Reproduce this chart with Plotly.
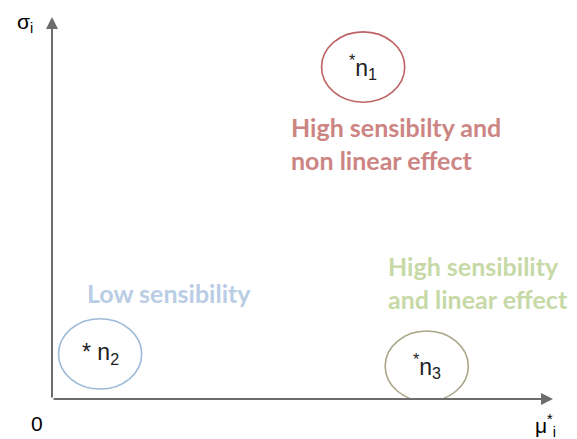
import plotly.graph_objects as go

# nodes in the (mu*, sigma) plane, axes normalised to 0..1
node_names = ["n1", "n2", "n3"]
node_x = [0.621, 0.096, 0.748]
node_y = [0.869, 0.118, 0.086]
node_labels = ["<sup>*</sup>n<sub>1</sub>", "* n<sub>2</sub>", "<sup>*</sup>n<sub>3</sub>"]
node_colors = ["#bf6466", "#9dbbd9", "#aaa688"]

# region captions
region_text = ["<b>High sensibilty and<br>non linear effect</b>",
               "<b>Low sensibility</b>",
               "<b>High sensibility<br>and linear effect</b>"]
region_x = [0.687, 0.234, 0.850]
region_y = [0.670, 0.277, 0.304]
region_colors = ["#cd8583", "#b9cde5", "#c6d9a6"]

fig = go.Figure()

# invisible trace so the axes exist
fig.add_trace(go.Scatter(x=node_x, y=node_y, mode="markers",
                         marker=dict(opacity=0), hoverinfo="skip", showlegend=False))

# circles round the nodes
rx, ry = 0.083, 0.092
for x, y, c in zip(node_x, node_y, node_colors):
    fig.add_shape(type="circle", xref="x", yref="y",
                  x0=x - rx, x1=x + rx, y0=y - ry, y1=y + ry,
                  line=dict(color=c, width=1.6))

annotations = []
for x, y, t in zip(node_x, node_y, node_labels):
    annotations.append(dict(x=x, y=y, xref="x", yref="y", text=t, showarrow=False,
                            font=dict(family="Arial", size=23, color="#222222")))

for x, y, t, c in zip(region_x, region_y, region_text, region_colors):
    annotations.append(dict(x=x, y=y, xref="x", yref="y", text=t, showarrow=False,
                            font=dict(family="Lato", size=25, color=c),
                            align="left"))

# axis arrows
annotations.append(dict(x=1.0, y=0, ax=0, ay=0, xref="x", yref="y", axref="x", ayref="y",
                        text="", showarrow=True, arrowhead=2, arrowsize=1.2,
                        arrowwidth=2, arrowcolor="#6d6d6d"))
annotations.append(dict(x=0, y=1.0, ax=0, ay=0, xref="x", yref="y", axref="x", ayref="y",
                        text="", showarrow=True, arrowhead=2, arrowsize=1.2,
                        arrowwidth=2, arrowcolor="#6d6d6d"))

# axis labels (paper coords so they may sit outside the plot)
axis_font = dict(family="Arial", size=21, color="#000000")
annotations.append(dict(x=-0.054, y=0.985, xref="paper", yref="paper", text="σ<sub>i</sub>",
                        xanchor="center", yanchor="middle", showarrow=False, font=axis_font))
annotations.append(dict(x=-0.03, y=-0.063, xref="paper", yref="paper", text="0",
                        xanchor="center", yanchor="middle", showarrow=False, font=axis_font))
annotations.append(dict(x=0.985, y=-0.07, xref="paper", yref="paper", text="μ<sup>*</sup><sub>i</sub>",
                        xanchor="center", yanchor="middle", showarrow=False, font=axis_font))

# page body adds 8px, so margins are shifted by that
fig.update_layout(
    width=577, height=439,
    margin=dict(l=44, r=32, t=9, b=48),
    paper_bgcolor="white", plot_bgcolor="white",
    xaxis=dict(range=[0, 1], visible=False, fixedrange=True),
    yaxis=dict(range=[0, 1], visible=False, fixedrange=True),
    annotations=annotations,
    showlegend=False,
)

fig.write_html("out.html")
